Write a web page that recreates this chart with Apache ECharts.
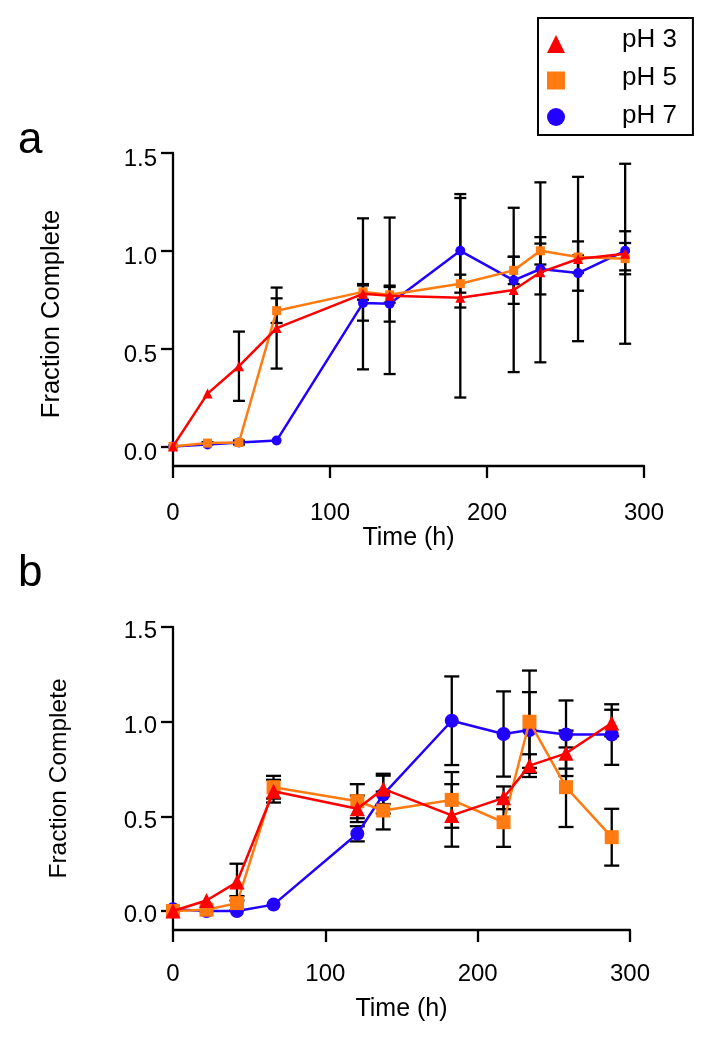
<!DOCTYPE html>
<html><head><meta charset="utf-8">
<script src="https://cdn.jsdelivr.net/npm/echarts@6/dist/echarts.min.js"></script>
<style>html,body{margin:0;padding:0;background:#fff}#c{width:712px;height:1040px}</style>
</head><body><div id="c"></div>
<script>
// ---- data ----
const times = [0, 22, 42, 66, 121, 138, 183, 217, 234, 258, 288];
const xTicks = [0, 100, 200, 300];
const yTicks = [0, 0.5, 1.0, 1.5];
const seriesNames = ['pH 3', 'pH 5', 'pH 7'];

// panel a
const a_pH3 = [0, 0.27, 0.41, 0.605, 0.78, 0.77, 0.76, 0.80, 0.89, 0.958, 0.985];
const a_pH3_err = [0, 0, 0.177, 0.207, 0.386, 0.40, 0.51, 0.42, 0.46, 0.42, 0.46];
const a_pH5 = [0, 0.017, 0.02, 0.694, 0.79, 0.775, 0.832, 0.90, 1.0, 0.968, 0.96];
const a_pH5_err = [0, 0.005, 0.01, 0.063, 0.04, 0.04, 0.046, 0.07, 0.07, 0.08, 0.08];
const a_pH7 = [0, 0.01, 0.02, 0.03, 0.733, 0.73, 1.0, 0.849, 0.907, 0.886, 1.0];
const a_pH7_err = [0, 0, 0, 0, 0.09, 0.092, 0.29, 0.12, 0.13, 0.09, 0.10];

// panel b
const b_pH3 = [0, 0.056, 0.153, 0.633, 0.54, 0.645, 0.505, 0.598, 0.768, 0.833, 0.993];
const b_pH3_err = [0, 0, 0.097, 0.06, 0.07, 0.08, 0.165, 0.06, 0.06, 0.12, 0.07];
const b_pH5 = [0, 0.007, 0.042, 0.654, 0.58, 0.531, 0.587, 0.469, 1.0, 0.654, 0.39];
const b_pH5_err = [0, 0, 0.037, 0.06, 0.09, 0.10, 0.147, 0.13, 0.27, 0.21, 0.15];
const b_pH7 = [0.01, 0, 0, 0.034, 0.408, 0.615, 1.005, 0.935, 0.956, 0.932, 0.932];
const b_pH7_err = [0, 0, 0, 0, 0.04, 0.10, 0.234, 0.225, 0.20, 0.18, 0.16];

// ---- styling ----
const FONT = '"Liberation Sans", Arial, Helvetica, sans-serif';
const RED = '#ff0000', ORANGE = '#ff7a10', BLUE = '#2200ff';

function errSeries(xi, vals, errs, cap) {
  const data = [];
  times.forEach((t, i) => { if (errs[i] > 0) data.push([t, vals[i] - errs[i], vals[i] + errs[i]]); });
  return {
    type: 'custom', name: 'err', xAxisIndex: xi, yAxisIndex: xi, z: 1, silent: true,
    data, encode: { x: 0, y: [1, 2] },
    renderItem: (params, api) => {
      const lo = api.coord([api.value(0), api.value(1)]);
      const hi = api.coord([api.value(0), api.value(2)]);
      const st = { stroke: '#000', lineWidth: 2.3 };
      return { type: 'group', children: [
        { type: 'line', shape: { x1: lo[0], y1: lo[1], x2: hi[0], y2: hi[1] }, style: st },
        { type: 'line', shape: { x1: lo[0] - cap / 2, y1: lo[1], x2: lo[0] + cap / 2, y2: lo[1] }, style: st },
        { type: 'line', shape: { x1: hi[0] - cap / 2, y1: hi[1], x2: hi[0] + cap / 2, y2: hi[1] }, style: st }
      ] };
    }
  };
}

function lineSeries(xi, name, vals, color, symbol, size, z) {
  return {
    type: 'line', name, xAxisIndex: xi, yAxisIndex: xi, z,
    data: times.map((t, i) => [t, vals[i]]),
    symbol, symbolSize: size, showSymbol: true,
    lineStyle: { color, width: 2.5 }, itemStyle: { color }
  };
}

function xAx(gi, nameGap, margin) {
  return {
    gridIndex: gi, type: 'value', min: xTicks[0], max: xTicks[xTicks.length - 1], interval: 100,
    axisLine: { onZero: false, lineStyle: { color: '#000', width: 2.3 } },
    axisTick: { length: 12, lineStyle: { color: '#000', width: 2.3 } },
    axisLabel: { color: '#000', fontSize: 24, fontFamily: FONT, margin },
    splitLine: { show: false },
    name: 'Time (h)', nameLocation: 'middle', nameGap,
    nameTextStyle: { color: '#000', fontSize: 25, fontFamily: FONT }
  };
}
function yAx(gi, nameGap, nameSize, lh, namePad) {
  return {
    gridIndex: gi, type: 'value', min: -0.1, max: 1.5,
    axisLine: { onZero: false, lineStyle: { color: '#000', width: 2.3 } },
    axisTick: { length: 12, customValues: yTicks, lineStyle: { color: '#000', width: 2.3 } },
    axisLabel: { color: '#000', fontSize: 24, fontFamily: FONT, margin: 16, customValues: yTicks,
      formatter: v => v.toFixed(1), verticalAlign: 'top', lineHeight: lh },
    splitLine: { show: false },
    name: 'Fraction Complete', nameLocation: 'middle', nameRotate: 90, nameGap,
    nameTextStyle: { color: '#000', fontSize: nameSize, fontFamily: FONT, padding: namePad }
  };
}

const option = {
  animation: false,
  backgroundColor: '#fff',
  title: [
    { text: 'a', left: 13, top: 114, textStyle: { fontSize: 44, fontWeight: 'normal', color: '#000', fontFamily: FONT } },
    { text: 'b', left: 13, top: 547, textStyle: { fontSize: 44, fontWeight: 'normal', color: '#000', fontFamily: FONT } }
  ],
  legend: [
    { // text entries with the frame
      orient: 'vertical', left: 538, top: 18, selectedMode: false,
      data: seriesNames.map(n => ({ name: n, icon: 'none' })),
      itemWidth: 0, itemHeight: 30, itemGap: 8,
      borderColor: '#000', borderWidth: 2, padding: [7, 16, 4, 79],
      textStyle: { fontSize: 26, lineHeight: 30, color: '#000', fontFamily: FONT }
    },
    { // marker entries
      orient: 'vertical', left: 547, top: 35, selectedMode: false,
      data: [
        { name: seriesNames[0], icon: 'triangle' },
        { name: seriesNames[1], icon: 'rect' },
        { name: seriesNames[2], icon: 'circle' }
      ],
      formatter: () => '',
      itemWidth: 18, itemHeight: 18, itemGap: 18.5, padding: 0
    }
  ],
  grid: [
    { left: 173, top: 153, width: 471, height: 313 },
    { left: 173, top: 627, width: 457, height: 303 }
  ],
  xAxis: [xAx(0, 51, 35), xAx(1, 67, 32)],
  yAxis: [yAx(0, 108, 25.5, 13, [0, 9, 0, 0]), yAx(1, 101, 24.5, 9, 0)],
  series: [
    errSeries(0, a_pH7, a_pH7_err, 12),
    errSeries(0, a_pH5, a_pH5_err, 12),
    errSeries(0, a_pH3, a_pH3_err, 12),
    lineSeries(0, seriesNames[2], a_pH7, BLUE, 'circle', 10, 3),
    lineSeries(0, seriesNames[1], a_pH5, ORANGE, 'rect', 9, 4),
    lineSeries(0, seriesNames[0], a_pH3, RED, 'triangle', 10, 5),
    errSeries(1, b_pH7, b_pH7_err, 15),
    errSeries(1, b_pH5, b_pH5_err, 15),
    errSeries(1, b_pH3, b_pH3_err, 15),
    lineSeries(1, seriesNames[2], b_pH7, BLUE, 'circle', 14, 3),
    lineSeries(1, seriesNames[1], b_pH5, ORANGE, 'rect', 14, 4),
    lineSeries(1, seriesNames[0], b_pH3, RED, 'triangle', 15, 5)
  ]
};
const chart = echarts.init(document.getElementById('c'), null, { renderer: 'canvas' });
chart.setOption(option);
</script>
</body></html>
